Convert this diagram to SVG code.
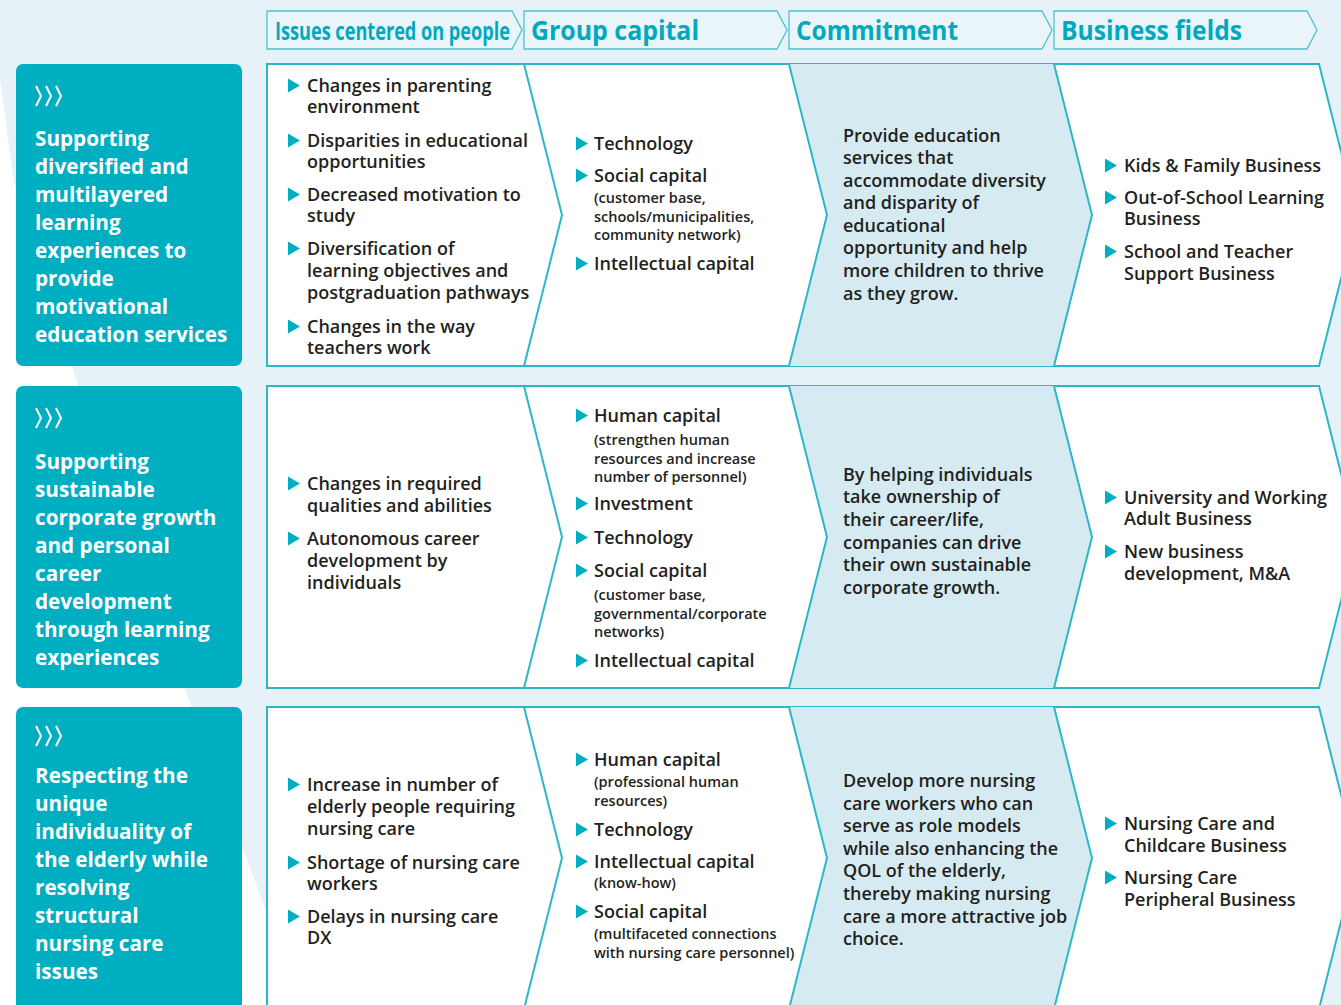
<svg xmlns="http://www.w3.org/2000/svg" xmlns:xlink="http://www.w3.org/1999/xlink" width="1341" height="1005" viewBox="0 0 1341 1005">
<style>
text{font-family:'Open Sans','Noto Sans','Liberation Sans',sans-serif}
.b{font-weight:600;font-size:18px;fill:#231f20}
.s{font-weight:600;font-size:14.5px;fill:#231f20}
.p{font-weight:700;font-size:20.7px;fill:#ffffff}
.h{font-weight:700;font-size:26px;fill:#00a9bf}
.hb{fill:#eaf5fa;stroke:#4fc2d1;stroke-width:1.3}
.panel{fill:#00aec2}
.row{fill:#ffffff;stroke:#2cb7c9;stroke-width:2}
.shade{fill:#d6ebf1}
.div{fill:none;stroke:#2cb7c9;stroke-width:2}
.icon{fill:none;stroke:#ffffff;stroke-width:2;stroke-linejoin:miter}
.tri{fill:#00aec2}
</style>
<defs>
<path id="tri" class="tri" d="M0,-7 L12,0 L0,7 Z"/>
<g id="ico"><polyline class="icon" points="0,-10 5,0 0,10"/><polyline class="icon" points="10,-10 15,0 10,10"/><polyline class="icon" points="20,-10 25,0 20,10"/></g>
</defs>
<rect x="0" y="0" width="1341" height="1005" fill="#e6f2f7"/>
<path d="M0,80 C6,120 10,160 15,186 L75,376 L188,697 L300,1005 L0,1005 Z" fill="#ffffff"/>

<g id="headers">
<g id="h1"><polygon class="hb" points="267,11 512,11 522,30 512,49 267,49"/><text class="h" x="275" y="39.5" textLength="235" lengthAdjust="spacingAndGlyphs" style="font-size:25px">Issues centered on people</text></g>
<g id="h2"><polygon class="hb" points="524,11 777,11 787,30 777,49 524,49"/><text class="h" x="531" y="39.5" textLength="168" lengthAdjust="spacingAndGlyphs">Group capital</text></g>
<g id="h3"><polygon class="hb" points="789,11 1042,11 1052,30 1042,49 789,49"/><text class="h" x="796" y="39.5" textLength="162" lengthAdjust="spacingAndGlyphs">Commitment</text></g>
<g id="h4"><polygon class="hb" points="1054,11 1307,11 1317,30 1307,49 1054,49"/><text class="h" x="1061" y="39.5" textLength="181" lengthAdjust="spacingAndGlyphs">Business fields</text></g>
</g>

<!-- Row 1 -->
<g id="row1">
<g id="row1-panel">
<rect class="panel" x="16" y="64" width="226" height="302" rx="7"/>
<use xlink:href="#ico" x="36" y="96"/>
<text class="p"><tspan x="35" y="146">Supporting</tspan><tspan x="35" y="174">diversified and</tspan><tspan x="35" y="202">multilayered</tspan><tspan x="35" y="230">learning</tspan><tspan x="35" y="258">experiences to</tspan><tspan x="35" y="286">provide</tspan><tspan x="35" y="314">motivational</tspan><tspan x="35" y="342">education services</tspan></text>
</g>
<g id="row1-box">
<path class="row" d="M267,64 L1319,64 L1357,215 L1319,366 L267,366 Z"/>
<polygon class="shade" points="789,64 1054,64 1092,215 1054,366 789,366 827,215"/>
</g>
<g id="row1-issues">
<use xlink:href="#tri" x="288" y="85.5"/><text class="b"><tspan x="307" y="92">Changes in parenting</tspan><tspan x="307" y="113">environment</tspan></text>
<use xlink:href="#tri" x="288" y="140.5"/><text class="b"><tspan x="307" y="147">Disparities in educational</tspan><tspan x="307" y="168">opportunities</tspan></text>
<use xlink:href="#tri" x="288" y="194.5"/><text class="b"><tspan x="307" y="201">Decreased motivation to</tspan><tspan x="307" y="222">study</tspan></text>
<use xlink:href="#tri" x="288" y="248.5"/><text class="b"><tspan x="307" y="255">Diversification of</tspan><tspan x="307" y="277">learning objectives and</tspan><tspan x="307" y="299">postgraduation pathways</tspan></text>
<use xlink:href="#tri" x="288" y="326.5"/><text class="b"><tspan x="307" y="333">Changes in the way</tspan><tspan x="307" y="354">teachers work</tspan></text>
</g>
<g id="row1-capital">
<use xlink:href="#tri" x="576" y="143.5"/><text class="b" x="594" y="150">Technology</text>
<use xlink:href="#tri" x="576" y="175.5"/><text class="b" x="594" y="182">Social capital</text>
<text class="s"><tspan x="594" y="203">(customer base,</tspan><tspan x="594" y="222">schools/municipalities,</tspan><tspan x="594" y="240">community network)</tspan></text>
<use xlink:href="#tri" x="576" y="263.5"/><text class="b" x="594" y="270">Intellectual capital</text>
</g>
<g id="row1-commitment">
<text class="b"><tspan x="843" y="142">Provide education</tspan><tspan x="843" y="164">services that</tspan><tspan x="843" y="187">accommodate diversity</tspan><tspan x="843" y="209">and disparity of</tspan><tspan x="843" y="232">educational</tspan><tspan x="843" y="254">opportunity and help</tspan><tspan x="843" y="277">more children to thrive</tspan><tspan x="843" y="300">as they grow.</tspan></text>
</g>
<g id="row1-business">
<use xlink:href="#tri" x="1105" y="165.5"/><text class="b" x="1124" y="172">Kids &amp; Family Business</text>
<use xlink:href="#tri" x="1105" y="197.5"/><text class="b"><tspan x="1124" y="204">Out-of-School Learning</tspan><tspan x="1124" y="225">Business</tspan></text>
<use xlink:href="#tri" x="1105" y="251.5"/><text class="b"><tspan x="1124" y="258">School and Teacher</tspan><tspan x="1124" y="280">Support Business</tspan></text>
</g>
</g>

<!-- Row 2 -->
<g id="row2">
<g id="row2-panel">
<rect class="panel" x="16" y="386" width="226" height="302" rx="7"/>
<use xlink:href="#ico" x="36" y="418"/>
<text class="p"><tspan x="35" y="469">Supporting</tspan><tspan x="35" y="497">sustainable</tspan><tspan x="35" y="525">corporate growth</tspan><tspan x="35" y="553">and personal</tspan><tspan x="35" y="581">career</tspan><tspan x="35" y="609">development</tspan><tspan x="35" y="637">through learning</tspan><tspan x="35" y="665">experiences</tspan></text>
</g>
<g id="row2-box">
<path class="row" d="M267,386 L1319,386 L1357,537 L1319,688 L267,688 Z"/>
<polygon class="shade" points="789,386 1054,386 1092,537 1054,688 789,688 827,537"/>
</g>
<g id="row2-issues">
<use xlink:href="#tri" x="288" y="483.5"/><text class="b"><tspan x="307" y="490">Changes in required</tspan><tspan x="307" y="512">qualities and abilities</tspan></text>
<use xlink:href="#tri" x="288" y="538.5"/><text class="b"><tspan x="307" y="545">Autonomous career</tspan><tspan x="307" y="567">development by</tspan><tspan x="307" y="589">individuals</tspan></text>
</g>
<g id="row2-capital">
<use xlink:href="#tri" x="576" y="415.5"/><text class="b" x="594" y="422">Human capital</text>
<text class="s"><tspan x="594" y="445">(strengthen human</tspan><tspan x="594" y="464">resources and increase</tspan><tspan x="594" y="482">number of personnel)</tspan></text>
<use xlink:href="#tri" x="576" y="503.5"/><text class="b" x="594" y="510">Investment</text>
<use xlink:href="#tri" x="576" y="537.5"/><text class="b" x="594" y="544">Technology</text>
<use xlink:href="#tri" x="576" y="570.5"/><text class="b" x="594" y="577">Social capital</text>
<text class="s"><tspan x="594" y="600">(customer base,</tspan><tspan x="594" y="619">governmental/corporate</tspan><tspan x="594" y="637">networks)</tspan></text>
<use xlink:href="#tri" x="576" y="660.5"/><text class="b" x="594" y="667">Intellectual capital</text>
</g>
<g id="row2-commitment">
<text class="b"><tspan x="843" y="481">By helping individuals</tspan><tspan x="843" y="503">take ownership of</tspan><tspan x="843" y="526">their career/life,</tspan><tspan x="843" y="549">companies can drive</tspan><tspan x="843" y="571">their own sustainable</tspan><tspan x="843" y="594">corporate growth.</tspan></text>
</g>
<g id="row2-business">
<use xlink:href="#tri" x="1105" y="497.5"/><text class="b"><tspan x="1124" y="504">University and Working</tspan><tspan x="1124" y="525">Adult Business</tspan></text>
<use xlink:href="#tri" x="1105" y="551.5"/><text class="b"><tspan x="1124" y="558">New business</tspan><tspan x="1124" y="580">development, M&amp;A</tspan></text>
</g>
</g>

<!-- Row 3 -->
<g id="row3">
<g id="row3-panel">
<rect class="panel" x="16" y="707" width="226" height="310" rx="7"/>
<use xlink:href="#ico" x="36" y="736"/>
<text class="p"><tspan x="35" y="783">Respecting the</tspan><tspan x="35" y="811">unique</tspan><tspan x="35" y="839">individuality of</tspan><tspan x="35" y="867">the elderly while</tspan><tspan x="35" y="895">resolving</tspan><tspan x="35" y="923">structural</tspan><tspan x="35" y="951">nursing care</tspan><tspan x="35" y="979">issues</tspan></text>
</g>
<g id="row3-box">
<path class="row" d="M267,707 L1319,707 L1357,858 L1319,1009 L267,1009 Z"/>
<polygon class="shade" points="789,707 1054,707 1092,858 1054,1009 789,1009 827,858"/>
</g>
<g id="row3-issues">
<use xlink:href="#tri" x="288" y="784.5"/><text class="b"><tspan x="307" y="791">Increase in number of</tspan><tspan x="307" y="813">elderly people requiring</tspan><tspan x="307" y="835">nursing care</tspan></text>
<use xlink:href="#tri" x="288" y="862.5"/><text class="b"><tspan x="307" y="869">Shortage of nursing care</tspan><tspan x="307" y="890">workers</tspan></text>
<use xlink:href="#tri" x="288" y="916.5"/><text class="b"><tspan x="307" y="923">Delays in nursing care</tspan><tspan x="307" y="944">DX</tspan></text>
</g>
<g id="row3-capital">
<use xlink:href="#tri" x="576" y="759.5"/><text class="b" x="594" y="766">Human capital</text>
<text class="s"><tspan x="594" y="787">(professional human</tspan><tspan x="594" y="806">resources)</tspan></text>
<use xlink:href="#tri" x="576" y="829.5"/><text class="b" x="594" y="836">Technology</text>
<use xlink:href="#tri" x="576" y="861.5"/><text class="b" x="594" y="868">Intellectual capital</text>
<text class="s" x="594" y="888">(know-how)</text>
<use xlink:href="#tri" x="576" y="911.5"/><text class="b" x="594" y="918">Social capital</text>
<text class="s"><tspan x="594" y="939">(multifaceted connections</tspan><tspan x="594" y="958">with nursing care personnel)</tspan></text>
</g>
<g id="row3-commitment">
<text class="b"><tspan x="843" y="787">Develop more nursing</tspan><tspan x="843" y="810">care workers who can</tspan><tspan x="843" y="832">serve as role models</tspan><tspan x="843" y="855">while also enhancing the</tspan><tspan x="843" y="877">QOL of the elderly,</tspan><tspan x="843" y="900">thereby making nursing</tspan><tspan x="843" y="923">care a more attractive job</tspan><tspan x="843" y="945">choice.</tspan></text>
</g>
<g id="row3-business">
<use xlink:href="#tri" x="1105" y="823.5"/><text class="b"><tspan x="1124" y="830">Nursing Care and</tspan><tspan x="1124" y="852">Childcare Business</tspan></text>
<use xlink:href="#tri" x="1105" y="877.5"/><text class="b"><tspan x="1124" y="884">Nursing Care</tspan><tspan x="1124" y="906">Peripheral Business</tspan></text>
</g>
</g>

<g id="connectors">
<polyline class="div" points="524,64 562,215 524,366"/>
<polyline class="div" points="789,64 827,215 789,366"/>
<polyline class="div" points="1054,64 1092,215 1054,366"/>
<polyline class="div" points="524,386 562,537 524,688"/>
<polyline class="div" points="789,386 827,537 789,688"/>
<polyline class="div" points="1054,386 1092,537 1054,688"/>
<polyline class="div" points="524,707 562,858 524,1009"/>
<polyline class="div" points="789,707 827,858 789,1009"/>
<polyline class="div" points="1054,707 1092,858 1054,1009"/>
</g>
</svg>
